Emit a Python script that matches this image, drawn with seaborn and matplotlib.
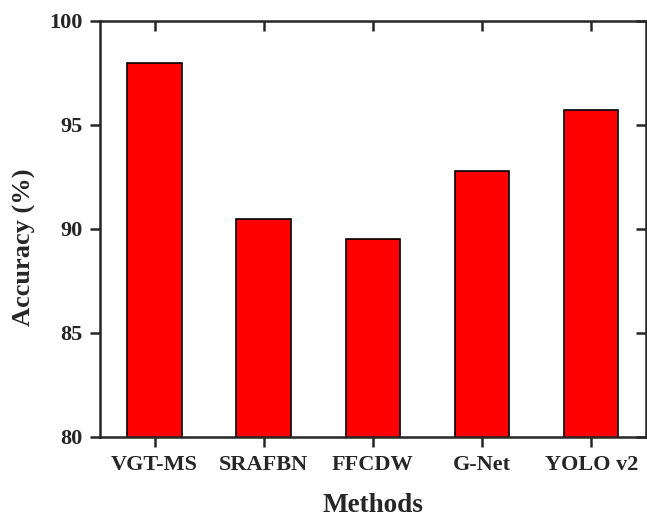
import matplotlib
matplotlib.use('Agg')
import matplotlib.pyplot as plt
import seaborn as sns
import pandas as pd

# data
methods = ['VGT-MS', 'SRAFBN', 'FFCDW', 'G-Net', 'YOLO v2']
accuracy = [98.0, 90.5, 89.5, 92.8, 95.7]
y_ticks = [80, 85, 90, 95, 100]

sns.set_style('ticks')
plt.rcParams['font.family'] = ['Liberation Serif', 'DejaVu Serif']
plt.rcParams['font.weight'] = 'bold'

df = pd.DataFrame({'Methods': methods, 'Accuracy': accuracy})

fig = plt.figure(figsize=(6.47, 5.18), dpi=100)
ax = fig.add_axes([0.1546, 0.1564, 0.8435, 0.8031])

sns.barplot(data=df, x='Methods', y='Accuracy', color='#ff0000',
            edgecolor='black', linewidth=1.2, width=0.5, saturation=1, ax=ax)

ax.set_ylim(80, 100)
ax.set_xlim(-0.5, 4.5)
ax.set_yticks(y_ticks)
ax.set_xlabel('Methods', fontsize=19.5, fontweight='bold', labelpad=13)
ax.set_ylabel('Accuracy (%)', fontsize=19, fontweight='bold')
ax.yaxis.set_label_coords(-0.118, 0.457)

for s in ax.spines.values():
    s.set_linewidth(1.8)
    s.set_visible(True)

ax.tick_params(axis='x', which='major', direction='out', length=7, width=1.8,
               labelsize=16, pad=6)
ax.tick_params(axis='y', which='major', direction='out', length=7, width=1.8,
               labelsize=16, pad=5.5)
ax.tick_params(top=True, right=True)
# ticks on top/right point inward
for t in ax.xaxis.get_major_ticks():
    t.tick2line.set_marker(matplotlib.lines.TICKDOWN)
for t in ax.yaxis.get_major_ticks():
    t.tick2line.set_marker(matplotlib.lines.TICKLEFT)

for lbl in ax.get_xticklabels() + ax.get_yticklabels():
    lbl.set_fontweight('bold')

fig.savefig('out.png', dpi=100)
